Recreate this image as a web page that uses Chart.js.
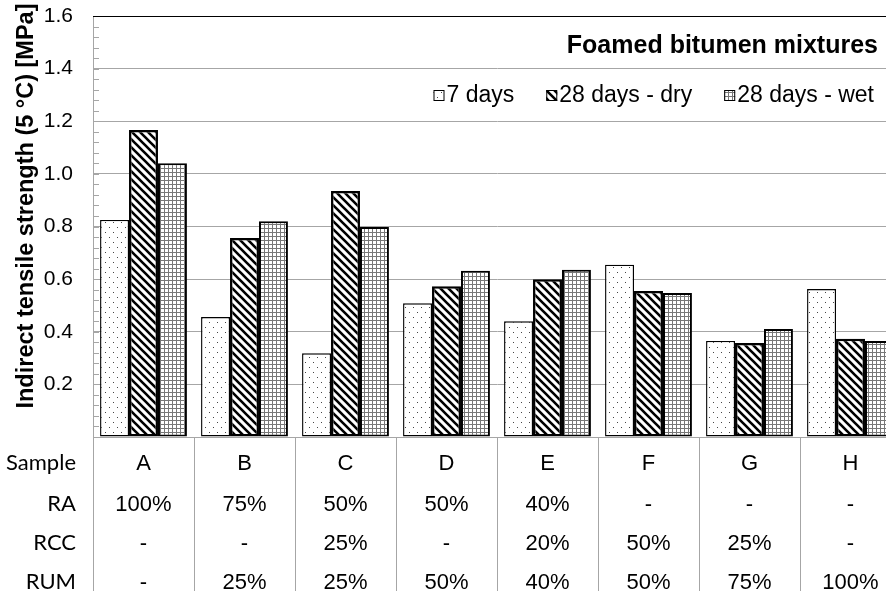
<!DOCTYPE html>
<html>
<head>
<meta charset="utf-8">
<script src="https://cdn.jsdelivr.net/npm/chart.js@4.4.1/dist/chart.umd.min.js"></script>
<style>
  html, body { margin: 0; padding: 0; background: #fff; overflow: hidden; }
  #wrap { width: 886px; height: 591px; overflow: hidden; position: relative; }
  canvas { display: block; }
</style>
</head>
<body>
<div id="wrap"><canvas id="chart" width="906" height="591"></canvas></div>
<script>
// Samples and mix composition
const categories = ['A', 'B', 'C', 'D', 'E', 'F', 'G', 'H'];
const rowRA  = ['100%', '75%', '50%', '50%', '40%', '-', '-', '-'];
const rowRCC = ['-', '-', '25%', '-', '20%', '50%', '25%', '-'];
const rowRUM = ['-', '25%', '25%', '50%', '40%', '50%', '75%', '100%'];
const rowHeaders = ['Sample', 'RA', 'RCC', 'RUM'];

// Indirect tensile strength at 5 °C [MPa]
const days7   = [0.825, 0.456, 0.318, 0.508, 0.440, 0.655, 0.365, 0.562];
const days28d = [1.167, 0.756, 0.935, 0.573, 0.600, 0.555, 0.357, 0.373];
const days28w = [1.040, 0.820, 0.798, 0.632, 0.636, 0.547, 0.410, 0.365];

const seriesLabels = ['7 days', '28 days - dry', '28 days - wet'];
const chartTitle = 'Foamed bitumen mixtures';
const yTitle = 'Indirect tensile strength (5 °C) [MPa]';

// Hatch fills
function makePattern(kind) {
  const c = document.createElement('canvas');
  const g = c.getContext('2d');
  if (kind === 'dots') {
    c.width = 8; c.height = 10;
    g.fillStyle = '#fff'; g.fillRect(0, 0, 8, 10);
    g.fillStyle = '#444';
    g.fillRect(1, 2, 1, 1);
    g.fillRect(5, 7, 1, 1);
  } else if (kind === 'diag') {
    c.width = 8; c.height = 8;
    g.fillStyle = '#fff'; g.fillRect(0, 0, 8, 8);
    g.strokeStyle = '#000'; g.lineWidth = 2.6;
    g.beginPath();
    g.moveTo(-2, -2); g.lineTo(10, 10);
    g.moveTo(-2, 6); g.lineTo(2, 10);
    g.moveTo(6, -2); g.lineTo(10, 2);
    g.stroke();
  } else {
    c.width = 4; c.height = 4;
    g.fillStyle = '#fff'; g.fillRect(0, 0, 4, 4);
    g.fillStyle = '#777';
    g.fillRect(0, 0, 4, 1);
    g.fillRect(0, 0, 1, 4);
  }
  return g.createPattern(c, 'repeat');
}

const FONT = '"Liberation Sans", Arial, sans-serif';

const decorations = {
  id: 'decorations',
  beforeDatasetsDraw(chart) {
    const { ctx, chartArea: a, scales: { y } } = chart;
    ctx.save();
    // minor ticks along the value axis
    ctx.strokeStyle = '#a6a6a6';
    ctx.lineWidth = 1;
    ctx.beginPath();
    for (let i = 0; i <= 40; i++) {
      const py = Math.round(y.getPixelForValue(i * 0.04)) + 0.5;
      ctx.moveTo(a.left, py);
      ctx.lineTo(a.left + 6, py);
    }
    ctx.stroke();
    ctx.restore();
  },
  afterDraw(chart) {
    const { ctx, chartArea: a, scales: { x } } = chart;
    const H = chart.height;
    ctx.save();

    // top frame line
    ctx.strokeStyle = '#000';
    ctx.lineWidth = 1;
    ctx.beginPath();
    ctx.moveTo(a.left, Math.round(a.top) + 0.5);
    ctx.lineTo(a.right, Math.round(a.top) + 0.5);
    ctx.stroke();

    // data table: column dividers
    const n = categories.length;
    const step = x.getPixelForValue(1) - x.getPixelForValue(0);
    ctx.strokeStyle = '#a6a6a6';
    ctx.beginPath();
    for (let k = 0; k <= n; k++) {
      const px = Math.round(x.getPixelForValue(k) - step / 2) + 0.5;
      ctx.moveTo(px, a.bottom);
      ctx.lineTo(px, H);
    }
    ctx.stroke();

    // data table: contents
    const baselines = [470, 511, 550, 589];
    const rows = [categories, rowRA, rowRCC, rowRUM];
    ctx.fillStyle = '#000';
    ctx.font = '22px ' + FONT;
    ctx.textAlign = 'center';
    ctx.textBaseline = 'alphabetic';
    rows.forEach((row, r) => {
      row.forEach((txt, i) => {
        ctx.fillText(txt, x.getPixelForValue(i), baselines[r]);
      });
    });
    ctx.font = '22px Lato, "Open Sans", sans-serif';
    ctx.textAlign = 'right';
    rowHeaders.forEach((txt, r) => ctx.fillText(txt, 76, baselines[r]));

    // value axis title
    ctx.save();
    ctx.translate(33, 206);
    ctx.rotate(-Math.PI / 2);
    ctx.font = 'bold 23.5px ' + FONT;
    ctx.textAlign = 'center';
    ctx.fillText(yTitle, 0, 0);
    ctx.restore();

    // chart title
    ctx.font = 'bold 25px ' + FONT;
    ctx.textAlign = 'right';
    ctx.fillText(chartTitle, 878, 53);

    // legend
    ctx.font = '23px ' + FONT;
    ctx.textAlign = 'left';
    const box = 11, gapBox = 2, gapItem = 32;
    const ds = chart.data.datasets;
    const widths = ds.map(d => box + gapBox + ctx.measureText(d.label).width);
    const total = widths.reduce((s, w) => s + w, 0) + gapItem * (ds.length - 1);
    let lx = 874 - total;
    ds.forEach((d, i) => {
      ctx.fillStyle = d.backgroundColor;
      ctx.fillRect(lx, 90, box, box);
      ctx.strokeStyle = '#000';
      ctx.lineWidth = 1;
      ctx.strokeRect(lx + 0.5, 90.5, box - 1, box - 1);
      ctx.fillStyle = '#000';
      ctx.fillText(d.label, lx + box + gapBox, 102);
      lx += widths[i] + gapItem;
    });

    ctx.restore();
  }
};

new Chart(document.getElementById('chart'), {
  type: 'bar',
  data: {
    labels: categories,
    datasets: [
      { label: seriesLabels[0], data: days7,   backgroundColor: makePattern('dots'), borderColor: '#000', borderWidth: 1.4 },
      { label: seriesLabels[1], data: days28d, backgroundColor: makePattern('diag'), borderColor: '#000', borderWidth: 2.5 },
      { label: seriesLabels[2], data: days28w, backgroundColor: makePattern('grid'), borderColor: '#000', borderWidth: 2 }
    ]
  },
  options: {
    responsive: false,
    devicePixelRatio: 1,
    animation: false,
    layout: { padding: { top: 16, right: 5, left: 0, bottom: 0 } },
    plugins: { legend: { display: false }, title: { display: false }, tooltip: { enabled: false } },
    datasets: { bar: { categoryPercentage: 0.86, barPercentage: 1.0, borderSkipped: false } },
    scales: {
      x: {
        type: 'category',
        ticks: { display: false },
        grid: { display: false },
        border: { display: false },
        afterFit(scale) { scale.height = 154; }
      },
      y: {
        min: 0,
        max: 1.6,
        ticks: {
          stepSize: 0.2,
          padding: 20,
          color: '#000',
          font: { family: FONT, size: 21 },
          callback: v => (v === 0 ? '' : v.toFixed(1))
        },
        grid: { color: '#a6a6a6', drawTicks: false },
        border: { display: true, color: '#a6a6a6' },
        afterFit(scale) {
          scale.width = 93;
          scale.paddingTop = 0;
          scale.paddingBottom = 0;
        }
      }
    }
  },
  plugins: [decorations]
});
</script>
</body>
</html>
